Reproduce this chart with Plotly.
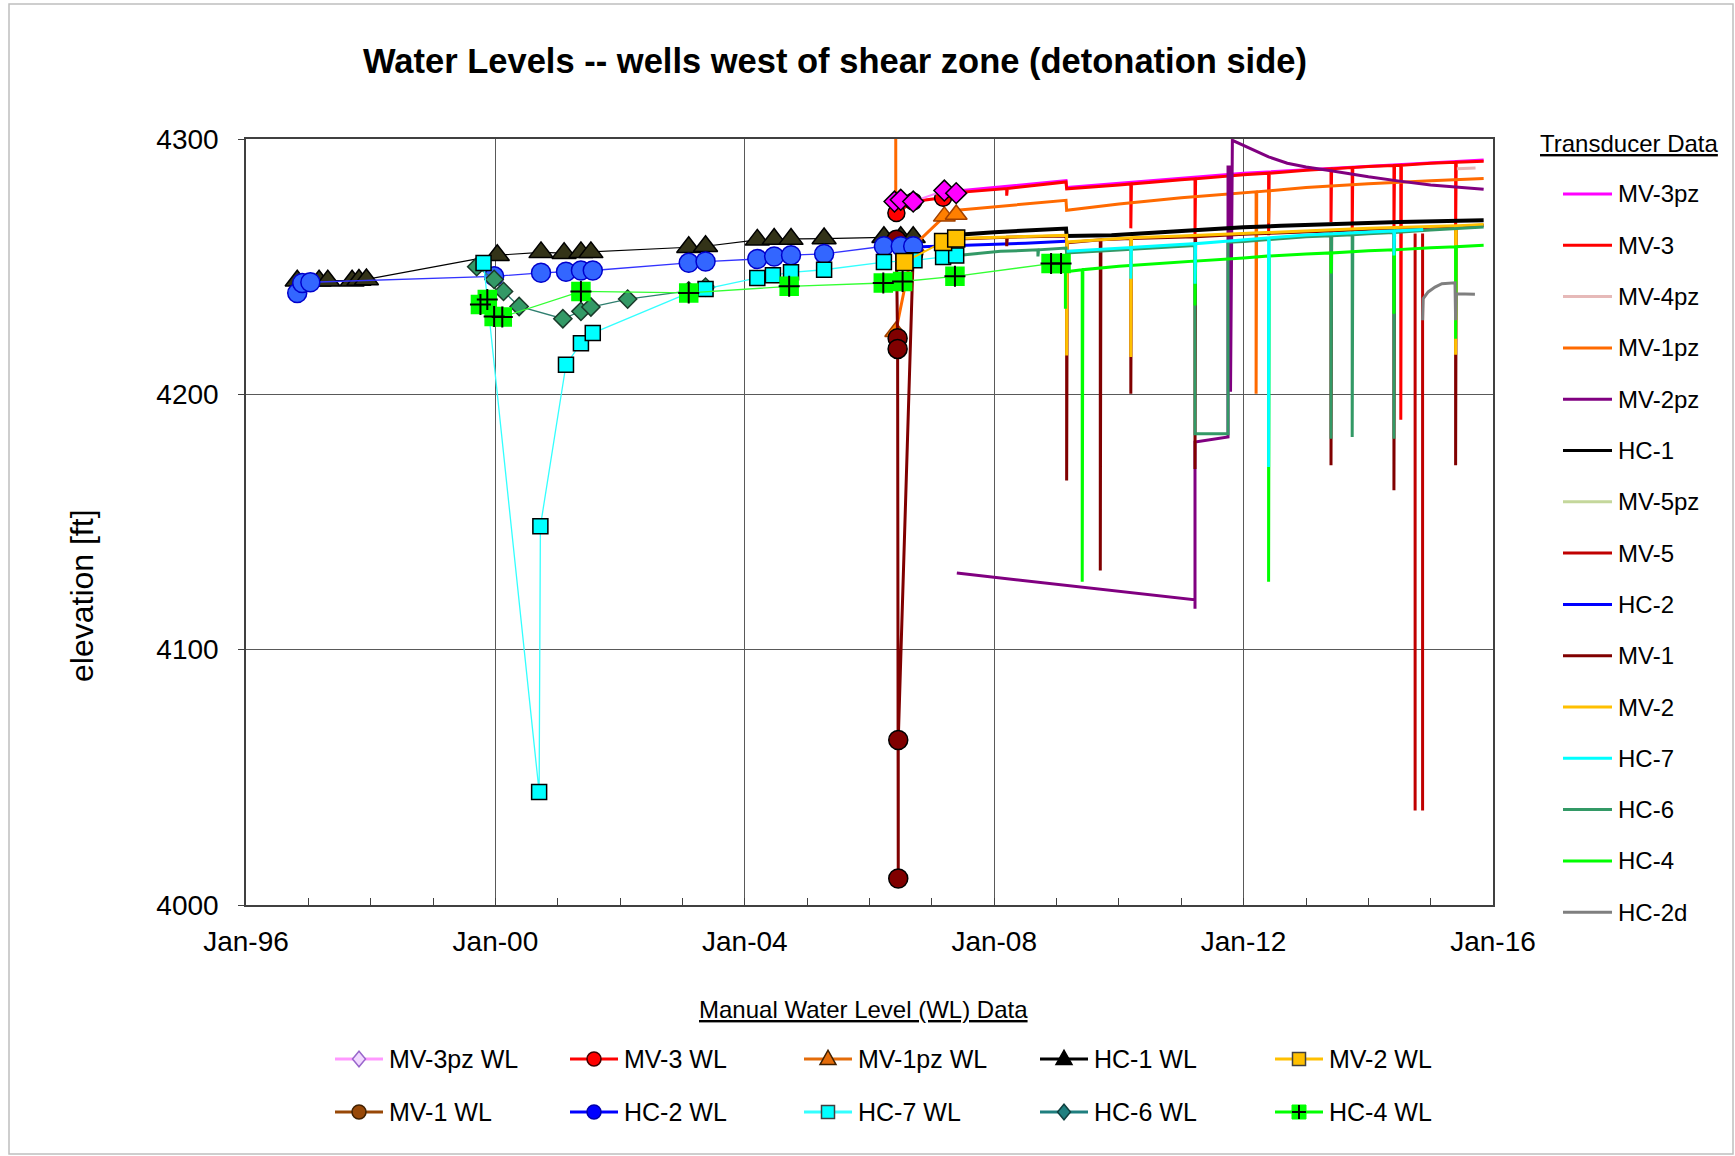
import numpy as np
import pandas as pd
import plotly.graph_objects as go

# ===================== DATA (decimal years, elevation in ft) =====================
# ---- Transducer data ----
MV3PZ_T_X = [2007.40, 2009.15, 2009.16, 2012.00, 2015.85]
MV3PZ_T_Y = [4279.6, 4283.7, 4281.0, 4286.6, 4291.8]

MV3_T_X = [2007.40, 2008.20, 2008.20, 2008.21, 2009.15, 2009.16, 2010.00, 2010.19, 2010.19, 2010.20,
           2011.00, 2011.22, 2011.22, 2011.23, 2012.00, 2012.40, 2012.40, 2012.41, 2013.00, 2013.40,
           2013.40, 2013.41, 2013.74, 2013.74, 2013.75, 2014.00, 2014.41, 2014.41, 2014.42, 2014.52,
           2014.52, 2014.53, 2015.00, 2015.40, 2015.40, 2015.41, 2015.85]
MV3_T_Y = [4279.0, 4280.6, 4277.8, 4280.6, 4283.2, 4280.5, 4282.0, 4282.4, 4265.0, 4282.4,
           4284.0, 4284.4, 4262.3, 4284.4, 4286.0, 4286.6, 4262.3, 4286.6, 4287.8, 4288.3,
           4267.5, 4288.3, 4288.8, 4262.3, 4288.8, 4289.2, 4289.6, 4262.5, 4289.6, 4289.7,
           4190.0, 4289.7, 4290.5, 4290.9, 4263.6, 4290.9, 4291.3]

MV4PZ_T_X = [2015.42, 2015.72]
MV4PZ_T_Y = [4288.3, 4288.6]

MV1PZ_T_X = [2006.42, 2006.42, None, 2007.40, 2009.15, 2009.16, 2010.00, 2011.00, 2012.20, 2012.20,
             2012.21, 2012.40, 2012.40, 2012.41, 2013.00, 2014.00, 2015.00, 2015.85]
MV1PZ_T_Y = [4330.0, 4274.0, None, 4272.1, 4276.0, 4272.1, 4274.5, 4277.0, 4279.3, 4200.2,
             4279.3, 4279.7, 4267.0, 4279.7, 4281.0, 4282.5, 4283.6, 4284.5]

MV2PZ_T_X = [2007.40, 2011.22, 2011.22, 2011.22, 2011.75, 2011.75, 2011.79, 2011.79, 2011.82, 2012.10,
             2012.40, 2012.70, 2013.00, 2013.40, 2014.00, 2014.50, 2015.00, 2015.50, 2015.85]
MV2PZ_T_Y = [4130.0, 4119.5, 4116.0, 4181.3, 4183.3, 4289.0, 4289.0, 4201.0, 4299.5, 4296.5,
             4293.0, 4290.5, 4289.0, 4287.6, 4285.2, 4283.5, 4282.0, 4281.0, 4280.3]

HC1_T_X = [2007.30, 2008.00, 2009.15, 2009.16, 2009.88, 2011.00, 2012.00, 2012.60, 2013.50, 2014.50, 2015.85]
HC1_T_Y = [4262.3, 4263.5, 4264.9, 4262.0, 4262.3, 4264.0, 4265.4, 4266.0, 4266.8, 4267.5, 4268.2]

MV5PZ_T_X = [2015.42, 2015.85]
MV5PZ_T_Y = [4265.8, 4266.3]

MV5_T_X = [2014.75, 2014.75, None, 2014.87, 2014.87]
MV5_T_Y = [4263.0, 4037.0, None, 4037.0, 4263.0]

HC2_T_X = [2006.72, 2007.50, 2008.50, 2009.15]
HC2_T_Y = [4257.7, 4258.3, 4259.2, 4260.0]

MV1_T_X = [2007.30, 2008.20, 2008.20, 2008.21, 2009.15, 2009.16, 2009.16, 2009.17, 2009.70, 2009.70,
           2009.71, 2010.19, 2010.19, 2010.20, 2011.22, 2011.22, 2011.23, 2012.00, 2013.00, 2013.40,
           2013.40, 2013.41, 2014.41, 2014.41, 2014.42, 2015.40, 2015.40, 2015.41, 2015.85]
MV1_T_Y = [4260.7, 4261.5, 4258.0, 4261.5, 4262.0, 4259.4, 4166.3, 4259.4, 4260.5, 4131.0,
           4260.5, 4261.0, 4200.2, 4261.0, 4261.7, 4170.8, 4261.7, 4262.7, 4263.7, 4264.0,
           4172.2, 4264.0, 4265.0, 4162.4, 4265.0, 4265.7, 4172.2, 4265.7, 4266.2]

MV2_T_X = [2007.30, 2009.15, 2009.16, 2009.16, 2009.17, 2010.19, 2010.19, 2010.20, 2011.00, 2012.00,
           2013.00, 2014.00, 2015.40, 2015.40, 2015.41, 2015.85]
MV2_T_Y = [4261.0, 4262.3, 4262.3, 4215.2, 4259.7, 4261.3, 4214.6, 4261.3, 4262.0, 4263.0,
           4264.0, 4265.0, 4266.0, 4215.5, 4266.0, 4266.5]

HC6_T_X = [2007.45, 2008.10, 2008.70, 2008.70, 2008.71, 2009.15, 2009.16, 2010.00, 2011.00, 2011.22,
           2011.22, 2011.75, 2011.75, 2012.00, 2013.00, 2013.40, 2013.40, 2013.41, 2013.74, 2013.74,
           2013.75, 2014.00, 2014.41, 2014.41, 2014.42, 2015.00, 2015.85]
HC6_T_Y = [4254.5, 4256.0, 4256.6, 4254.0, 4256.6, 4257.3, 4255.4, 4256.5, 4258.0, 4258.3,
           4184.6, 4184.6, 4259.6, 4259.9, 4261.7, 4262.1, 4182.6, 4262.1, 4262.5, 4183.3,
           4262.5, 4262.9, 4263.4, 4182.6, 4263.4, 4264.4, 4265.5]

HC4_T_X = [2009.14, 2009.14, 2009.41, 2009.41, 2009.42, 2010.00, 2011.00, 2011.22, 2011.22, 2011.23,
           2012.00, 2012.40, 2012.40, 2012.41, 2013.00, 2013.40, 2013.40, 2013.41, 2014.00, 2014.41,
           2014.41, 2014.42, 2015.00, 2015.40, 2015.40, 2015.41, 2015.85]
HC4_T_Y = [4233.5, 4248.0, 4248.8, 4126.6, 4248.8, 4250.2, 4251.8, 4252.2, 4234.8, 4252.2,
           4253.4, 4254.2, 4126.6, 4254.2, 4255.0, 4255.4, 4247.3, 4255.4, 4256.2, 4256.6,
           4231.6, 4256.6, 4257.4, 4257.8, 4221.8, 4257.8, 4258.4]

HC7_T_X = [2009.16, 2009.88, 2010.19, 2010.19, 2010.20, 2011.22, 2011.22, 2011.23, 2012.40, 2012.40,
           2012.41, 2013.00, 2014.00, 2014.41, 2014.41, 2014.42, 2014.88]
HC7_T_Y = [4256.0, 4257.0, 4257.5, 4245.3, 4257.5, 4259.0, 4243.3, 4259.0, 4261.3, 4171.5,
           4261.3, 4262.4, 4263.6, 4264.0, 4254.4, 4264.0, 4264.6]

HC2D_T_X = [2014.87, 2014.88, 2014.96, 2015.07, 2015.18, 2015.39, 2015.40, 2015.41, 2015.71]
HC2D_T_Y = [4229.0, 4237.5, 4240.1, 4242.0, 4243.3, 4243.7, 4229.0, 4239.4, 4239.2]

# ---- Manual water level (WL) data ----
HC1_WL_X = [1996.82, 1997.17, 1997.31, 1997.70, 1997.81, 1997.93, 2000.03, 2000.73, 2001.10, 2001.37,
            2001.53, 2003.10, 2003.37, 2004.20, 2004.47, 2004.74, 2005.27, 2006.23, 2006.50, 2006.70]
HC1_WL_Y = [4244.5, 4244.5, 4244.5, 4244.5, 4244.8, 4245.0, 4254.5, 4255.6, 4255.3, 4255.6,
            4255.6, 4257.6, 4258.0, 4260.5, 4260.8, 4260.8, 4261.0, 4261.5, 4261.5, 4261.5]

MV1_WL_X = [2006.43, 2006.45, 2006.45, 2006.46, 2006.46, 2006.70]
MV1_WL_Y = [4260.5, 4222.0, 4217.8, 4010.4, 4064.6, 4255.0]

HC2_WL_X = [1996.82, 1996.90, 1997.03, 1999.98, 2000.73, 2001.13, 2001.37, 2001.56, 2003.10, 2003.37,
            2004.20, 2004.47, 2004.74, 2005.27, 2006.23, 2006.50, 2006.70]
HC2_WL_Y = [4239.7, 4243.6, 4243.9, 4246.2, 4247.6, 4248.0, 4248.5, 4248.5, 4251.5, 4252.0,
            4253.0, 4254.0, 4254.5, 4255.0, 4258.0, 4258.0, 4258.0]

HC6_WL_X = [1999.70, 1999.98, 2000.13, 2000.38, 2001.08, 2001.37, 2001.53, 2002.12, 2003.10, 2003.37]
HC6_WL_Y = [4250.0, 4245.0, 4240.3, 4234.4, 4229.6, 4232.5, 4234.2, 4237.3, 4240.5, 4242.0]

HC7_WL_X = [1999.81, 2000.70, 2000.72, 2001.13, 2001.37, 2001.56, 2003.10, 2003.37, 2004.20, 2004.45,
            2004.74, 2005.27, 2006.23, 2006.72, 2007.18, 2007.39]
HC7_WL_Y = [4251.4, 4044.3, 4148.3, 4211.6, 4220.0, 4224.0, 4239.7, 4241.3, 4245.6, 4246.6,
            4247.8, 4248.8, 4251.8, 4252.5, 4253.8, 4254.4]

HC4_WL_X = [1999.76, 1999.87, 1999.98, 2000.11, 2001.37, 2003.10, 2004.71, 2006.22, 2006.53, 2007.37,
            2008.91, 2009.07]
HC4_WL_Y = [4235.2, 4237.1, 4230.5, 4230.3, 4240.3, 4239.7, 4242.3, 4243.6, 4244.2, 4246.2,
            4251.2, 4251.2]

MV2_WL_X = [2006.56, 2007.18, 2007.39]
MV2_WL_Y = [4251.8, 4259.7, 4261.0]

MV1PZ_WL_X = [2006.42, 2006.70, 2007.20, 2007.39]
MV1PZ_WL_Y = [4224.5, 4258.0, 4269.7, 4270.4]

MV3_WL_X = [2006.43, 2006.70, 2007.18]
MV3_WL_Y = [4271.0, 4275.5, 4277.0]

MV3PZ_WL_X = [2006.40, 2006.50, 2006.70, 2007.20, 2007.39]
MV3PZ_WL_Y = [4275.5, 4276.2, 4275.5, 4279.8, 4278.8]

# ---- Labels ----
TRANSDUCER_NAMES = ["MV-3pz", "MV-3", "MV-4pz", "MV-1pz", "MV-2pz", "HC-1", "MV-5pz", "MV-5",
                    "HC-2", "MV-1", "MV-2", "HC-7", "HC-6", "HC-4", "HC-2d"]
WL_NAMES = ["MV-3pz WL", "MV-3 WL", "MV-1pz WL", "HC-1 WL", "MV-2 WL",
            "MV-1 WL", "HC-2 WL", "HC-7 WL", "HC-6 WL", "HC-4 WL"]
TITLE = "Water Levels -- wells west of shear zone (detonation side)"
Y_TITLE = "elevation [ft]"

# ===================== helpers =====================
FONT = "Liberation Sans, Arial, sans-serif"


def to_dates(years):
    out = []
    for v in years:
        if v is None:
            out.append(None)
            continue
        yr = int(np.floor(v))
        start = pd.Timestamp(year=yr, month=1, day=1)
        end = pd.Timestamp(year=yr + 1, month=1, day=1)
        out.append(start + (end - start) * (v - yr))
    return out


T_COLORS = {"MV-3pz": "#FF00FF", "MV-3": "#FF0000", "MV-4pz": "#E6B9B8", "MV-1pz": "#FF6A00",
            "MV-2pz": "#800080", "HC-1": "#000000", "MV-5pz": "#C4D79B", "MV-5": "#C00000",
            "HC-2": "#0000FF", "MV-1": "#800000", "MV-2": "#FFC000", "HC-7": "#00FFFF",
            "HC-6": "#339966", "HC-4": "#00FF00", "HC-2d": "#7F7F7F"}

transducer_series = {
    "MV-3pz": (MV3PZ_T_X, MV3PZ_T_Y), "MV-3": (MV3_T_X, MV3_T_Y), "MV-4pz": (MV4PZ_T_X, MV4PZ_T_Y),
    "MV-1pz": (MV1PZ_T_X, MV1PZ_T_Y), "MV-2pz": (MV2PZ_T_X, MV2PZ_T_Y), "HC-1": (HC1_T_X, HC1_T_Y),
    "MV-5pz": (MV5PZ_T_X, MV5PZ_T_Y), "MV-5": (MV5_T_X, MV5_T_Y), "HC-2": (HC2_T_X, HC2_T_Y),
    "MV-1": (MV1_T_X, MV1_T_Y), "MV-2": (MV2_T_X, MV2_T_Y), "HC-6": (HC6_T_X, HC6_T_Y),
    "HC-4": (HC4_T_X, HC4_T_Y), "HC-7": (HC7_T_X, HC7_T_Y), "HC-2d": (HC2D_T_X, HC2D_T_Y),
}
T_DRAW_ORDER = ["MV-3pz", "MV-3", "MV-4pz", "MV-1pz", "MV-2pz", "HC-1", "MV-5pz", "MV-5",
                "HC-2", "MV-1", "MV-2", "HC-6", "HC-4", "HC-7", "HC-2d"]

fig = go.Figure()

for name in T_DRAW_ORDER:
    xs, ys = transducer_series[name]
    fig.add_trace(go.Scatter(
        x=to_dates(xs), y=ys, mode="lines", name=name, showlegend=False,
        connectgaps=False,
        line=dict(color=T_COLORS[name], width=4 if name == "HC-1" else 3)))

# WL traces: (name, x, y, line color, line width, symbol, size, fill, edge)
wl_series = [
    ("HC-1 WL", HC1_WL_X, HC1_WL_Y, "#000000", 1.2, "triangle-up", 21, "#333318", "#000000"),
    ("MV-1pz WL", MV1PZ_WL_X, MV1PZ_WL_Y, "#FF6A00", 3, "triangle-up", 19, "#FF7F00", "#A04000"),
    ("MV-1 WL", MV1_WL_X, MV1_WL_Y, "#800000", 3, "circle", 19, "#800000", "#000000"),
    ("HC-2 WL", HC2_WL_X, HC2_WL_Y, "#3333FF", 1.3, "circle", 19, "#3366FF", "#0000CC"),
    ("HC-6 WL", HC6_WL_X, HC6_WL_Y, "#2F7F6F", 1.3, "diamond", 14, "#339966", "#1A3A2A"),
    ("HC-7 WL", HC7_WL_X, HC7_WL_Y, "#33FFFF", 1.3, "square", 15, "#00FFFF", "#000000"),
    ("HC-4 WL", HC4_WL_X, HC4_WL_Y, "#33FF33", 1.3, "square", 18, "#00FF00", "#00FF00"),
    ("MV-2 WL", MV2_WL_X, MV2_WL_Y, "#FFC000", 2, "square", 17, "#FFC000", "#000000"),
    ("MV-3 WL", MV3_WL_X, MV3_WL_Y, "#FF0000", 3, "circle", 17, "#FF0000", "#000000"),
    ("MV-3pz WL", MV3PZ_WL_X, MV3PZ_WL_Y, "#FF80FF", 2, "diamond", 16, "#FF00FF", "#000000"),
]
for (name, xs, ys, lc, lw, sym, sz, fc, ec) in wl_series:
    fig.add_trace(go.Scatter(
        x=to_dates(xs), y=ys, mode="lines+markers", name=name, showlegend=False,
        line=dict(color=lc, width=lw),
        marker=dict(symbol=sym, size=sz, color=fc, line=dict(color=ec, width=1.5))))
    if name == "HC-4 WL":
        fig.add_trace(go.Scatter(
            x=to_dates(xs), y=ys, mode="markers", name=name, showlegend=False, hoverinfo="skip",
            marker=dict(symbol="cross-thin", size=15, color="#000000",
                        line=dict(color="#000000", width=2))))

# ===================== layout geometry (pixels) =====================
W, H = 1735, 1156
X0, X1, Y_TOP, Y_BOT = 246, 1493, 139, 905


def px(x):
    return (x - X0) / (X1 - X0)


def py(y):
    return (Y_BOT - y) / (Y_BOT - Y_TOP)


shapes = []
annotations = []

# outer frame
shapes.append(dict(type="rect", xref="paper", yref="paper", x0=px(9), x1=px(1733), y0=py(4), y1=py(1154),
                   line=dict(color="#BFBFBF", width=1.5), fillcolor="rgba(0,0,0,0)", layer="below"))

# y-axis title
annotations.append(dict(text=Y_TITLE, xref="paper", yref="paper", x=px(82), y=py(596), showarrow=False,
                        textangle=-90, xanchor="center", yanchor="middle",
                        font=dict(family=FONT, size=32, color="#000000")))

# ---- right legend: Transducer Data ----
annotations.append(dict(text="<u>Transducer Data</u>", xref="paper", yref="paper", x=px(1629), y=py(144),
                        showarrow=False, xanchor="center", yanchor="middle",
                        font=dict(family=FONT, size=24, color="#000000")))
for i, name in enumerate(TRANSDUCER_NAMES):
    yy = 194 + i * 51.3
    shapes.append(dict(type="line", xref="paper", yref="paper", x0=px(1563), x1=px(1612),
                       y0=py(yy), y1=py(yy), line=dict(color=T_COLORS[name], width=3)))
    annotations.append(dict(text=name, xref="paper", yref="paper", x=px(1616), y=py(yy), showarrow=False,
                            xanchor="left", yanchor="middle", font=dict(family=FONT, size=24, color="#000000")))


# ---- bottom legend: Manual WL data ----
def marker_shape(kind, cx, cy, fill, edge, s):
    base = dict(xref="paper", yref="paper", xsizemode="pixel", ysizemode="pixel",
                xanchor=px(cx), yanchor=py(cy), fillcolor=fill, line=dict(color=edge, width=1.5))
    out = []
    if kind == "circle":
        out.append(dict(base, type="circle", x0=-s, x1=s, y0=-s, y1=s))
    elif kind == "square":
        out.append(dict(base, type="path", path=f"M{-s},{-s}L{s},{-s}L{s},{s}L{-s},{s}Z"))
    elif kind == "diamond":
        out.append(dict(base, type="path", path=f"M{-s},0L0,{s * 1.2}L{s},0L0,{-s * 1.2}Z"))
    elif kind == "triangle":
        out.append(dict(base, type="path", path=f"M{-s},{-s * 0.7}L{s},{-s * 0.7}L0,{s * 1.1}Z"))
    elif kind == "squarecross":
        out.append(dict(base, type="path", path=f"M{-s},{-s}L{s},{-s}L{s},{s}L{-s},{s}Z",
                        line=dict(color=fill, width=1)))
        out.append(dict(base, type="path", path=f"M{-s},0L{s},0M0,{-s}L0,{s}",
                        fillcolor="rgba(0,0,0,0)", line=dict(color="#000000", width=2)))
    return out


annotations.append(dict(text="<u>Manual Water Level (WL) Data</u>", xref="paper", yref="paper",
                        x=px(863), y=py(1009), showarrow=False, xanchor="center", yanchor="middle",
                        font=dict(family=FONT, size=24, color="#000000")))

# (line color, marker kind, fill, edge)
WL_LEGEND_STYLE = {
    "MV-3pz WL": ("#FF99FF", "diamond", "#F2D9FF", "#9966CC"),
    "MV-3 WL": ("#FF0000", "circle", "#FF0000", "#400000"),
    "MV-1pz WL": ("#E46C0A", "triangle", "#E46C0A", "#402000"),
    "HC-1 WL": ("#000000", "triangle", "#000000", "#000000"),
    "MV-2 WL": ("#FFC000", "square", "#FFC000", "#404040"),
    "MV-1 WL": ("#984807", "circle", "#984807", "#402000"),
    "HC-2 WL": ("#0000FF", "circle", "#0000FF", "#0000AA"),
    "HC-7 WL": ("#33FFFF", "square", "#00FFFF", "#404040"),
    "HC-6 WL": ("#1F7F7F", "diamond", "#1F7F7F", "#103F3F"),
    "HC-4 WL": ("#00FF00", "squarecross", "#00FF00", "#000000"),
}
COL_X = [335, 570, 804, 1040, 1275]
ROW_Y = [1059, 1112]
for k, name in enumerate(WL_NAMES):
    r, c = divmod(k, 5)
    x0 = COL_X[c]
    yy = ROW_Y[r]
    lc, kind, fc, ec = WL_LEGEND_STYLE[name]
    shapes.append(dict(type="line", xref="paper", yref="paper", x0=px(x0), x1=px(x0 + 48),
                       y0=py(yy), y1=py(yy), line=dict(color=lc, width=3)))
    size = {"circle": 7, "square": 6.5, "diamond": 6.5, "triangle": 8, "squarecross": 7}[kind]
    shapes.extend(marker_shape(kind, x0 + 24, yy, fc, ec, size))
    annotations.append(dict(text=name, xref="paper", yref="paper", x=px(x0 + 52), y=py(yy), showarrow=False,
                            xanchor="left", yanchor="middle", font=dict(family=FONT, size=25, color="#000000")))

fig.update_layout(
    width=W, height=H, autosize=False,
    margin=dict(l=X0, r=W - X1, t=Y_TOP, b=H - Y_BOT, pad=0),
    paper_bgcolor="white", plot_bgcolor="white",
    font=dict(family=FONT, color="#000000"),
    title=dict(text=f"<b>{TITLE}</b>", x=835 / W, xref="container", xanchor="center",
               y=1 - 61 / H, yref="container", yanchor="middle",
               font=dict(family=FONT, size=34.5, color="#000000")),
    showlegend=False,
    shapes=shapes, annotations=annotations,
    xaxis=dict(type="date", range=["1996-01-01", "2016-01-01"], tick0="1996-01-01", dtick="M48",
               tickformat="%b-%y", showgrid=True, gridcolor="#595959", gridwidth=1.3,
               ticks="inside", ticklen=7, tickcolor="#404040",
               minor=dict(dtick="M12", ticks="inside", ticklen=7, tickcolor="#404040", showgrid=False),
               showline=True, linecolor="#404040", linewidth=2, mirror=True,
               tickfont=dict(family=FONT, size=28, color="#000000"), ticklabelstandoff=10,
               zeroline=False),
    yaxis=dict(range=[4000, 4300], dtick=100, tick0=4000, showgrid=True, gridcolor="#595959", gridwidth=1.3,
               ticks="outside", ticklen=6, tickcolor="#404040",
               showline=True, linecolor="#404040", linewidth=1.5, mirror=True,
               tickfont=dict(family=FONT, size=28, color="#000000"), ticklabelstandoff=14,
               zeroline=False),
)

fig.write_html("out.html")
